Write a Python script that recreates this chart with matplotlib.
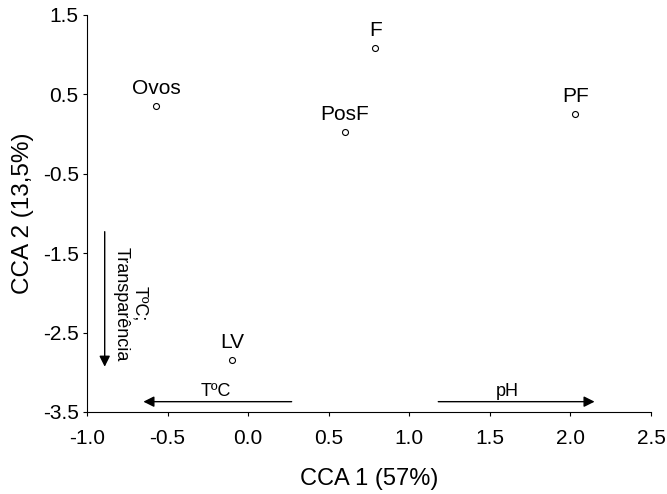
import matplotlib
matplotlib.use("Agg")
import matplotlib.pyplot as plt

plt.rcParams['font.family'] = ['Liberation Sans', 'DejaVu Sans']

# scores das amostras
labels = ["Ovos", "F", "PosF", "PF", "LV"]
cca1 = [-0.57, 0.79, 0.60, 2.03, -0.10]
cca2 = [0.35, 1.08, 0.02, 0.25, -2.85]

# vetores ambientais (inicio x, inicio y, fim x, fim y)
env_names = ["TºC;\nTransparência", "TºC", "pH"]
env_start = [(-0.89, -1.23), (0.27, -3.37), (1.18, -3.37)]
env_end = [(-0.89, -2.93), (-0.65, -3.37), (2.15, -3.37)]

xticks = [-1.0, -0.5, 0.0, 0.5, 1.0, 1.5, 2.0, 2.5]
yticks = [1.5, 0.5, -0.5, -1.5, -2.5, -3.5]

fig = plt.figure(figsize=(6.67, 4.94), dpi=100)
ax = fig.add_axes([0.1304, 0.166, 0.8456, 0.804])

ax.plot(cca1, cca2, 'o', mfc='white', mec='black', ms=4.3, mew=0.8, ls='none')
for lb, x, y in zip(labels, cca1, cca2):
    ax.annotate(lb, (x, y), xytext=(0, 6), textcoords='offset points',
                ha='center', va='bottom', fontsize=15)

for s, e in zip(env_start, env_end):
    ax.annotate('', xy=e, xytext=s,
                arrowprops=dict(arrowstyle='-|>', color='black', lw=1,
                                mutation_scale=16, shrinkA=0, shrinkB=0))

ax.text(-0.73, -1.42, env_names[0], rotation=270, ha='center', va='top',
        fontsize=13, linespacing=1.1)
ax.text(-0.2, -3.35, env_names[1], ha='center', va='bottom', fontsize=13)
ax.text(1.61, -3.35, env_names[2], ha='center', va='bottom', fontsize=13)

ax.set_xlim(-1.0, 2.5)
ax.set_ylim(-3.5, 1.5)
ax.set_xticks(xticks)
ax.set_yticks(yticks)
ax.set_xticklabels([f"{t:.1f}" for t in xticks])
ax.set_yticklabels([f"{t:.1f}" for t in yticks])
ax.tick_params(direction='out', length=3, width=0.8, labelsize=15)
ax.tick_params(axis='x', pad=9)
ax.tick_params(axis='y', pad=3)
for sp in ['top', 'right']:
    ax.spines[sp].set_visible(False)
for sp in ['left', 'bottom']:
    ax.spines[sp].set_linewidth(0.8)

ax.set_xlabel("CCA 1 (57%)", fontsize=17, labelpad=15)
ax.set_ylabel("CCA 2 (13,5%)", fontsize=17.5, labelpad=6)

fig.savefig("out.png", dpi=100)
